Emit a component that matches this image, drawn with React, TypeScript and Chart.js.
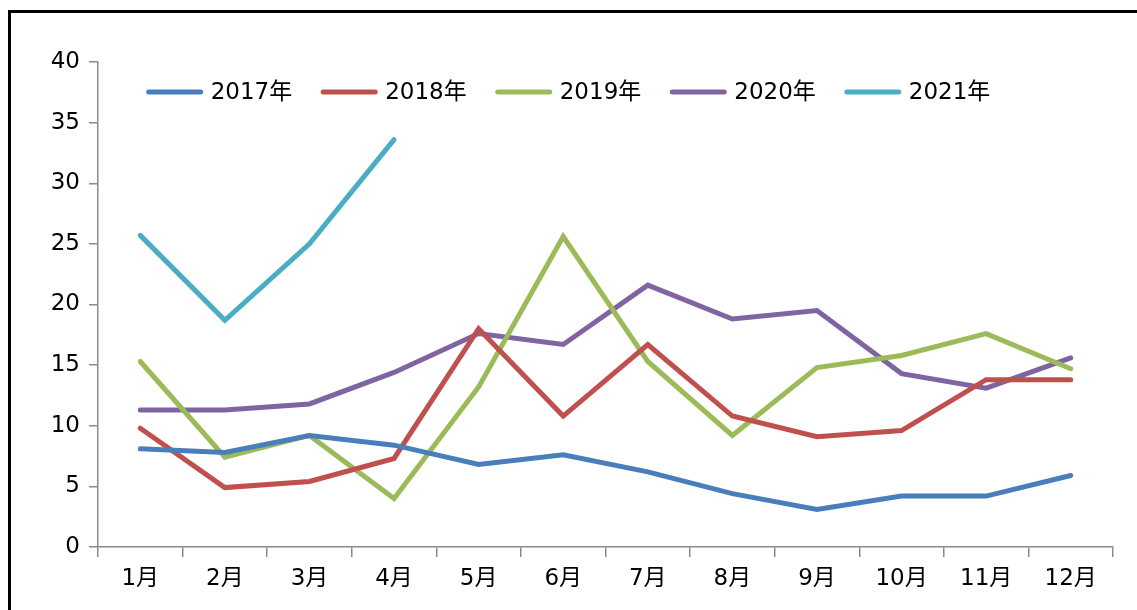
import React, { useEffect, useRef } from "react";
import { Chart, registerables } from "chart.js";

Chart.register(...registerables);

const months = ["1月", "2月", "3月", "4月", "5月", "6月", "7月", "8月", "9月", "10月", "11月", "12月"];
const seriesLabels = ["2017年", "2018年", "2019年", "2020年", "2021年"];
const s2017 = [8.1, 7.8, 9.2, 8.4, 6.8, 7.6, 6.2, 4.4, 3.1, 4.2, 4.2, 5.9];
const s2018 = [9.8, 4.9, 5.4, 7.3, 18.0, 10.8, 16.7, 10.8, 9.1, 9.6, 13.8, 13.8];
const s2019 = [15.3, 7.4, 9.2, 4.0, 13.2, 25.6, 15.3, 9.2, 14.8, 15.8, 17.6, 14.7];
const s2020 = [11.3, 11.3, 11.8, 14.4, 17.6, 16.7, 21.6, 18.8, 19.5, 14.3, 13.1, 15.6];
const s2021 = [25.7, 18.7, 25.0, 33.6];
const seriesColors = ["#4A7EBB", "#C0504D", "#9BBB59", "#8064A2", "#4BACC6"];
const yMin = 0;
const yMax = 40;
const yStep = 5;

const FONT = "'DejaVu Sans', 'Noto Sans CJK SC', sans-serif";
const FONT_SIZE = 23;

const inlineLegend = {
  id: "inlineLegend",
  afterDatasetsDraw(chart: any) {
    const ctx = chart.ctx;
    ctx.save();
    ctx.font = `${FONT_SIZE}px ${FONT}`;
    const lineLen = 56;
    const gapText = 8;
    const gapItem = 29;
    const items = chart.data.datasets.map((ds: any) => ({
      label: ds.label,
      color: ds.borderColor,
      tw: ctx.measureText(ds.label).width,
    }));
    const total =
      items.reduce((a: number, it: any) => a + lineLen + gapText + it.tw, 0) +
      gapItem * (items.length - 1);
    let x = (chart.width - total) / 2;
    const y = 92;
    for (const it of items) {
      ctx.beginPath();
      ctx.strokeStyle = it.color;
      ctx.lineWidth = 5;
      ctx.lineCap = "round";
      ctx.moveTo(x + 2, y);
      ctx.lineTo(x + lineLen - 2, y);
      ctx.stroke();
      ctx.fillStyle = "#000";
      ctx.textBaseline = "middle";
      ctx.textAlign = "left";
      ctx.fillText(it.label, x + lineLen + gapText, y + 1);
      x += lineLen + gapText + it.tw + gapItem;
    }
    ctx.restore();
  },
};

export default function App() {
  const ref = useRef<HTMLCanvasElement | null>(null);

  useEffect(() => {
    if (!ref.current) return;
    const all = [s2017, s2018, s2019, s2020, s2021];
    const chart = new Chart(ref.current, {
      type: "line",
      data: {
        labels: months,
        datasets: all.map((d, i) => ({
          label: seriesLabels[i],
          data: d,
          borderColor: seriesColors[i],
          backgroundColor: seriesColors[i],
          borderWidth: 5,
          borderCapStyle: "round",
          borderJoinStyle: "miter",
          pointRadius: 0,
          pointHoverRadius: 0,
          tension: 0,
          fill: false,
        })),
      },
      options: {
        responsive: false,
        animation: false,
        layout: { padding: { top: 62, right: 24, left: 0, bottom: 0 } },
        plugins: {
          legend: { display: false },
          tooltip: { enabled: false },
        },
        scales: {
          x: {
            offset: true,
            afterFit(scale: any) {
              scale.height = 63;
            },
            grid: {
              offset: true,
              drawOnChartArea: false,
              drawTicks: true,
              tickLength: 10,
              color: "#8A8A8A",
              lineWidth: 1.5,
            },
            border: { color: "#8A8A8A", width: 1.5 },
            ticks: {
              color: "#000",
              padding: 8,
              maxRotation: 0,
              autoSkip: false,
              font: { family: FONT, size: FONT_SIZE },
            },
          },
          y: {
            min: yMin,
            max: yMax,
            afterFit(scale: any) {
              scale.width = 98;
            },
            grid: {
              drawOnChartArea: false,
              drawTicks: true,
              tickLength: 9,
              color: "#8A8A8A",
              lineWidth: 1.5,
            },
            border: { color: "#8A8A8A", width: 1.5 },
            ticks: {
              stepSize: yStep,
              color: "#000",
              padding: 9,
              font: { family: FONT, size: FONT_SIZE },
            },
          },
        },
      },
      plugins: [inlineLegend],
    } as any);
    return () => chart.destroy();
  }, []);

  return (
    <div
      style={{
        position: "absolute",
        left: 0,
        top: 0,
        width: 1137,
        height: 610,
        overflow: "hidden",
        background: "#fff",
      }}
    >
      <div
        style={{
          position: "absolute",
          left: 8,
          top: 10,
          width: 1300,
          height: 800,
          border: "3px solid #000",
          boxSizing: "border-box",
        }}
      />
      <canvas
        ref={ref}
        width={1137}
        height={610}
        style={{ position: "absolute", left: 0, top: 0, width: 1137, height: 610 }}
      />
    </div>
  );
}
